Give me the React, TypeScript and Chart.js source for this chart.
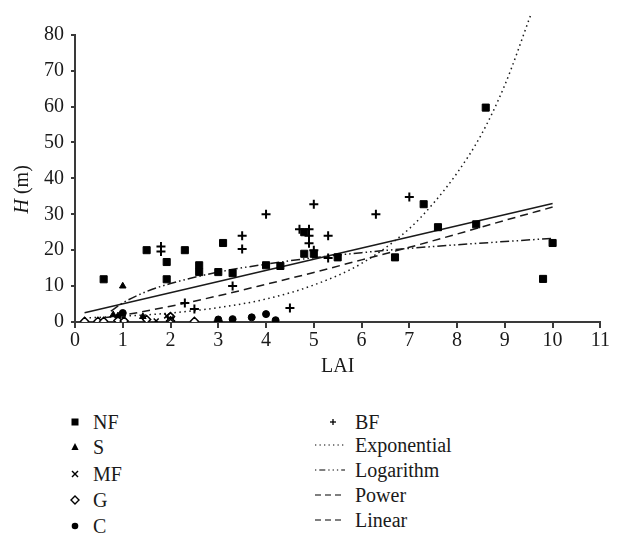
import React, { useEffect, useRef } from "react";
import { Chart, registerables } from "chart.js";
Chart.register(...registerables);

// ---- data (LAI, H) ----
const NF: [number, number][] = [
  [0.6, 11.9], [1.5, 20], [1.92, 11.9], [1.92, 16.7], [2.3, 20], [2.6, 15.8], [2.6, 13.9],
  [3.0, 13.9], [3.1, 22], [3.3, 13.6], [4.0, 15.8], [4.3, 15.6], [4.8, 25], [4.8, 19],
  [5.0, 19], [5.5, 18], [6.7, 18], [7.3, 32.8], [7.6, 26.4], [8.4, 27.2], [8.6, 59.7],
  [9.8, 12], [10, 22],
];
const S: [number, number][] = [[0.8, 2.0], [0.9, 1.7], [1.0, 10], [1.42, 1.5]];
const MF: [number, number][] = [[1.7, 0.3], [1.92, 1.7], [2.0, 0.8]];
const G: [number, number][] = [
  [0.2, 0.2], [0.48, 0.2], [0.6, 0.2], [0.9, 0.4], [1.03, 0.3], [1.5, 0.7], [2.0, 1.5], [2.0, 0.3], [2.5, 0.2],
];
const C: [number, number][] = [[1.0, 2.5], [2.0, 1.3], [3.0, 0.7], [3.3, 0.8], [3.7, 1.3], [4.0, 2.2], [4.2, 0.5]];
const BF: [number, number][] = [
  [1.0, 0.2], [2.0, 0.2], [3.0, 0.2],
  [1.8, 21], [1.8, 19.6], [2.3, 5.3], [2.5, 3.6], [3.3, 10], [3.5, 24], [3.5, 20.3], [4.0, 30],
  [4.5, 3.9], [4.7, 25.8], [4.9, 25.8], [4.9, 24], [4.9, 21.9], [5.0, 32.8], [5.0, 20],
  [5.3, 24], [5.3, 17.8], [6.3, 30], [7.0, 34.8],
];
// trend lines
const EXPONENTIAL: [number, number][] = [
  [0.2, 1.1], [1, 1.6], [2, 2.5], [3, 4.0], [4, 6.4], [5, 10.3], [6, 16.3], [7, 26], [7.5, 33],
  [8, 41.5], [8.5, 52], [9, 66], [9.55, 85.8],
];
const LOGARITHM: [number, number][] = [
  [0.75, 3], [1, 5.3], [1.5, 8.5], [2, 10.7], [3, 13.9], [4, 16.1], [5, 17.9], [6, 19.3],
  [7, 20.5], [8, 21.5], [9, 22.4], [10, 23.3],
];
const POWER: [number, number][] = [
  [0.6, 1.2], [1, 1.9], [2, 4.4], [3, 7.3], [4, 10.5], [5, 13.8], [6, 17.3], [7, 20.8],
  [8, 24.5], [9, 28.3], [10, 32],
];
const LINEAR: [number, number][] = [[0.2, 2.6], [10, 33]];

const X_MIN = 0, X_MAX = 11, X_STEP = 1;
const Y_MIN = 0, Y_MAX = 80, Y_STEP = 10;
const X_TITLE = "LAI";

const FONT = '"Liberation Serif", "Times New Roman", serif';
const INK = "#1a1a1a";
const AXIS = "#3a3a3a";
const LINE = "#1a1a1a";

const pts = (a: [number, number][]) => a.map(([x, y]) => ({ x, y }));

const yTitlePlugin = {
  id: "yTitle",
  afterDraw(chart: any) {
    const { ctx, chartArea } = chart;
    const cy = (chartArea.top + chartArea.bottom) / 2 + 11;
    ctx.save();
    ctx.translate(15, cy);
    ctx.rotate(-Math.PI / 2);
    const f1 = `italic 20px ${FONT}`;
    const f2 = `20px ${FONT}`;
    ctx.font = f1;
    const w1 = ctx.measureText("H").width;
    ctx.font = f2;
    const w2 = ctx.measureText(" (m)").width;
    const x0 = -(w1 + w2) / 2;
    ctx.textBaseline = "middle";
    ctx.fillStyle = INK;
    ctx.font = f1;
    ctx.fillText("H", x0, 0);
    ctx.font = f2;
    ctx.fillText(" (m)", x0 + w1, 0);
    ctx.restore();
  },
};

function pointSet(label: string, data: [number, number][], style: any, extra: any = {}) {
  return {
    label,
    data: pts(data),
    pointStyle: style,
    backgroundColor: "#000",
    borderColor: "#000",
    borderWidth: 1,
    showLine: false,
    ...extra,
  };
}

function lineSet(label: string, data: [number, number][], dash: number[], extra: any = {}) {
  return {
    label,
    data: pts(data),
    showLine: true,
    pointRadius: 0,
    pointHoverRadius: 0,
    borderColor: LINE,
    borderWidth: 1.5,
    borderDash: dash,
    tension: 0.4,
    cubicInterpolationMode: "monotone",
    fill: false,
    clip: false,
    ...extra,
  };
}

const Marker = ({ kind }: { kind: string }) => {
  const s = 12;
  const c = s / 2;
  let el: any = null;
  if (kind === "rect") el = <rect x={c - 3.5} y={c - 3.5} width={7} height={7} fill="#000" />;
  if (kind === "triangle") el = <polygon points={`${c},${c - 4} ${c + 3.6},${c + 3} ${c - 3.6},${c + 3}`} fill="#000" />;
  if (kind === "crossRot")
    el = (
      <g stroke="#000" strokeWidth={1.4}>
        <line x1={c - 3} y1={c - 3} x2={c + 3} y2={c + 3} />
        <line x1={c - 3} y1={c + 3} x2={c + 3} y2={c - 3} />
      </g>
    );
  if (kind === "rectRot")
    el = <polygon points={`${c},${c - 4} ${c + 4},${c} ${c},${c + 4} ${c - 4},${c}`} fill="#fff" stroke="#000" strokeWidth={1.4} />;
  if (kind === "circle") el = <circle cx={c} cy={c} r={3.3} fill="#000" />;
  if (kind === "cross")
    el = (
      <g stroke="#000" strokeWidth={1.3}>
        <line x1={c - 3} y1={c} x2={c + 3} y2={c} />
        <line x1={c} y1={c - 3} x2={c} y2={c + 3} />
      </g>
    );
  return (
    <svg width={s} height={s} style={{ display: "block" }}>
      {el}
    </svg>
  );
};

const LineSample = ({ dash }: { dash: string }) => (
  <svg width={30} height={6} style={{ display: "block" }}>
    <line x1={0} y1={3} x2={30} y2={3} stroke="#555" strokeWidth={1.3} strokeDasharray={dash} />
  </svg>
);

const LEFT_LEGEND = [
  { label: "NF", kind: "rect", cy: 414 },
  { label: "S", kind: "triangle", cy: 439 },
  { label: "MF", kind: "crossRot", cy: 466 },
  { label: "G", kind: "rectRot", cy: 492 },
  { label: "C", kind: "circle", cy: 518 },
];
const RIGHT_LEGEND = [
  { label: "Exponential", dash: "1.3 3.2", cy: 437 },
  { label: "Logarithm", dash: "1.3 3 6 3 1.3 3 1.3 3", cy: 462 },
  { label: "Power", dash: "6 4", cy: 487 },
  { label: "Linear", dash: "6 4", cy: 512 },
];

export default function App() {
  const ref = useRef<HTMLCanvasElement>(null);
  useEffect(() => {
    const chart = new Chart(ref.current as HTMLCanvasElement, {
      type: "scatter",
      data: {
        datasets: [
          pointSet("NF", NF, "rect", { pointRadius: 5 }),
          pointSet("S", S, "triangle", { pointRadius: 3.8 }),
          pointSet("MF", MF, "crossRot", { pointRadius: 3.5, borderWidth: 1.5 }),
          pointSet("G", G, "rectRot", { pointRadius: 4, backgroundColor: "#fff", borderWidth: 1.5 }),
          pointSet("C", C, "circle", { pointRadius: 3.5 }),
          pointSet("BF", BF, "cross", { pointRadius: 4.5, borderWidth: 2 }),
          lineSet("Exponential", EXPONENTIAL, [1.5, 3.5]),
          lineSet("Logarithm", LOGARITHM, [9, 3, 1.5, 3, 1.5, 3]),
          lineSet("Power", POWER, [8, 5]),
          lineSet("Linear", LINEAR, [], { tension: 0 }),
        ] as any,
      },
      options: {
        animation: false,
        responsive: false,
        maintainAspectRatio: false,
        layout: { padding: { top: 26.7, right: 10, left: 0, bottom: 0 } },
        plugins: { legend: { display: false }, tooltip: { enabled: false } },
        scales: {
          x: {
            type: "linear",
            min: X_MIN,
            max: X_MAX,
            ticks: { stepSize: X_STEP, color: INK, font: { family: FONT, size: 20 }, padding: 1, maxRotation: 0 },
            grid: { drawOnChartArea: false, drawTicks: true, tickLength: 6, color: AXIS, lineWidth: 2 },
            border: { color: AXIS, width: 2 },
            title: { display: true, text: X_TITLE, color: INK, font: { family: FONT, size: 20 }, padding: { top: 0, bottom: 9 } },
            afterFit: (s: any) => {
              s.height = 66;
            },
          },
          y: {
            type: "linear",
            min: Y_MIN,
            max: Y_MAX,
            ticks: { stepSize: Y_STEP, color: INK, font: { family: FONT, size: 20 }, padding: 7 },
            grid: { drawOnChartArea: false, drawTicks: true, tickLength: 4, color: AXIS, lineWidth: 2 },
            border: { color: AXIS, width: 2 },
            afterFit: (s: any) => {
              s.width = 67;
            },
          },
        },
      } as any,
      plugins: [yTitlePlugin],
    });
    return () => chart.destroy();
  }, []);

  const textStyle: any = { fontFamily: FONT, fontSize: 20, color: INK, lineHeight: "24px", whiteSpace: "nowrap" };

  return (
    <div style={{ position: "relative", width: 603, height: 527 }}>
      <canvas ref={ref} width={603} height={380} style={{ display: "block", width: 603, height: 380 }} />
      {LEFT_LEGEND.map((it) => (
        <React.Fragment key={it.label}>
          <div style={{ position: "absolute", left: 61, top: it.cy - 6 }}>
            <Marker kind={it.kind} />
          </div>
          <div style={{ ...textStyle, position: "absolute", left: 85, top: it.cy - 12 }}>{it.label}</div>
        </React.Fragment>
      ))}
      <div style={{ position: "absolute", left: 319, top: 414 - 6 }}>
        <Marker kind="cross" />
      </div>
      <div style={{ ...textStyle, position: "absolute", left: 347, top: 414 - 12 }}>BF</div>
      {RIGHT_LEGEND.map((it) => (
        <React.Fragment key={it.label}>
          <div style={{ position: "absolute", left: 307, top: it.cy - 3 }}>
            <LineSample dash={it.dash} />
          </div>
          <div style={{ ...textStyle, position: "absolute", left: 347, top: it.cy - 12 }}>{it.label}</div>
        </React.Fragment>
      ))}
    </div>
  );
}
